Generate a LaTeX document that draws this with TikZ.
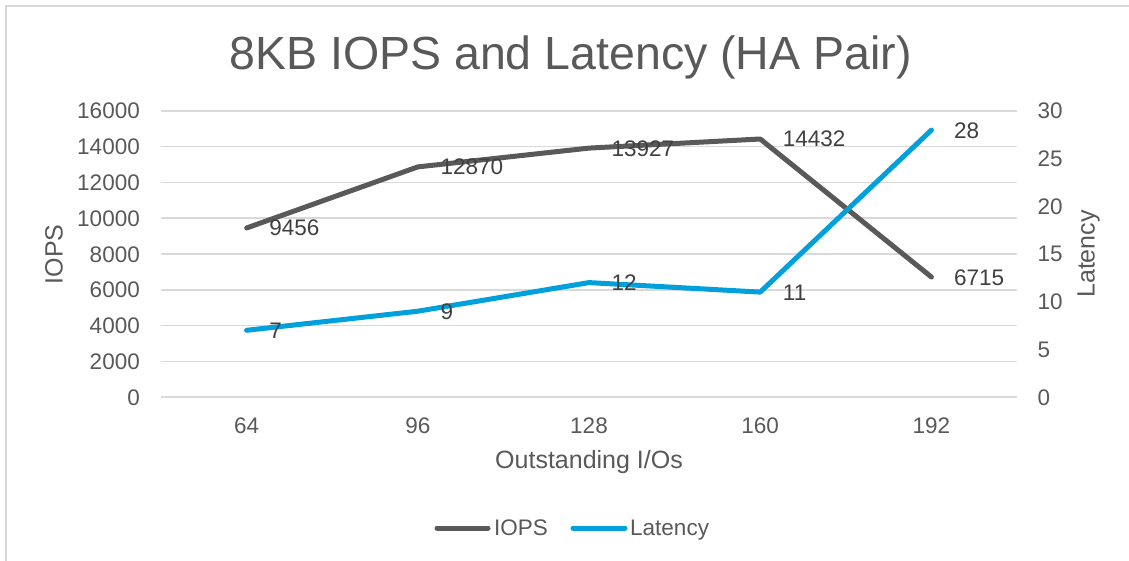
\documentclass[tikz,border=0pt]{standalone}
\usepackage{fontspec}
\setmainfont{Liberation Sans}
\definecolor{gridc}{HTML}{D9D9D9}
\definecolor{txtc}{HTML}{595959}
\definecolor{lblc}{HTML}{404040}
\definecolor{iopsc}{HTML}{595959}
\definecolor{latc}{HTML}{00A0DC}
\begin{document}
\begin{tikzpicture}[x=1pt,y=-1pt,
  tick/.style={inner sep=0pt,text=txtc,font=\fontsize{22.5}{27}\selectfont},
  axtitle/.style={inner sep=0pt,text=txtc,font=\fontsize{25}{30}\selectfont},
  dlabel/.style={inner sep=0pt,text=lblc,font=\fontsize{22.5}{27}\selectfont,anchor=base west},
  gridline/.style={draw=gridc,line width=1.5pt},
  serie/.style={line width=5pt,line join=round,line cap=round}]
\useasboundingbox (0,0) rectangle (1129,561);
\fill[white] (0,0) rectangle (1129,561);
% frame
\draw[gridc,line width=1.5pt] (6,561) -- (6,6) -- (1129,6);
% title
\node[inner sep=0pt,anchor=base,text=txtc,font=\fontsize{46.5}{56}\selectfont] (title) at (570.5,70) {8KB IOPS and Latency (HA Pair)};
% gridlines and tick labels
\foreach \k/\l/\r in {0/0/0,1/2000/5,2/4000/10,3/6000/15,4/8000/20,5/10000/25,6/12000/30,7/14000/35,8/16000/40}{
  \pgfmathsetmacro{\yy}{397-35.75*\k}
  \draw[gridline] (161,\yy) -- (1017,\yy);
}
\foreach \k/\l in {0/0,1/2000,2/4000,3/6000,4/8000,5/10000,6/12000,7/14000,8/16000}{
  \pgfmathsetmacro{\yy}{397-35.75*\k+8}
  \node[tick,anchor=base east] (yl\k) at (140,\yy) {\l};
}
\foreach \k/\l in {0/0,1/5,2/10,3/15,4/20,5/25,6/30}{
  \pgfmathsetmacro{\yy}{397-47.6667*\k+8}
  \node[tick,anchor=base west] (yr\k) at (1037.5,\yy) {\l};
}
% category labels
\foreach \i/\c in {0/64,1/96,2/128,3/160,4/192}{
  \pgfmathsetmacro{\xx}{246.6+171.2*\i}
  \node[tick,anchor=base] (xl\i) at (\xx,433) {\c};
}
% axis titles
\node[axtitle,anchor=base] (xt) at (589,468) {Outstanding I/Os};
\node[axtitle,anchor=base,rotate=90] (ylt) at (62.5,254.5) {IOPS};
\node[axtitle,anchor=base,rotate=90] (yrt) at (1094.5,254) {Latency};
% data points
\coordinate (i1) at (246.6,228.0);
\coordinate (i2) at (417.8,166.9);
\coordinate (i3) at (589.0,148.1);
\coordinate (i4) at (760.2,139.0);
\coordinate (i5) at (931.4,277.0);
\coordinate (l1) at (246.6,330.3);
\coordinate (l2) at (417.8,311.2);
\coordinate (l3) at (589.0,282.6);
\coordinate (l4) at (760.2,292.1);
\coordinate (l5) at (931.4,130.1);
\draw[serie,iopsc] (i1) -- (i2) -- (i3) -- (i4) -- (i5);
\draw[serie,latc] (l1) -- (l2) -- (l3) -- (l4) -- (l5);
% data labels
\node[dlabel] (di1) at ([shift={(22.5,8)}]i1) {9456};
\node[dlabel] (di2) at ([shift={(22.5,8)}]i2) {12870};
\node[dlabel] (di3) at ([shift={(22.5,8)}]i3) {13927};
\node[dlabel] (di4) at ([shift={(22.5,8)}]i4) {14432};
\node[dlabel] (di5) at ([shift={(22.5,8)}]i5) {6715};
\node[dlabel] (dl1) at ([shift={(22.5,8)}]l1) {7};
\node[dlabel] (dl2) at ([shift={(22.5,8)}]l2) {9};
\node[dlabel] (dl3) at ([shift={(22.5,8)}]l3) {12};
\node[dlabel] (dl4) at ([shift={(22.5,8)}]l4) {11};
\node[dlabel] (dl5) at ([shift={(22.5,8)}]l5) {28};
% legend
\coordinate (lg1a) at (437,528);
\coordinate (lg1b) at (488,528);
\coordinate (lg2a) at (573,528);
\coordinate (lg2b) at (625,528);
\draw[serie,iopsc] (lg1a) -- (lg1b);
\draw[serie,latc] (lg2a) -- (lg2b);
\node[tick,anchor=base west] (lgt1) at (494,535.5) {IOPS};
\node[tick,anchor=base west] (lgt2) at (630,535.5) {Latency};
\end{tikzpicture}
\end{document}
